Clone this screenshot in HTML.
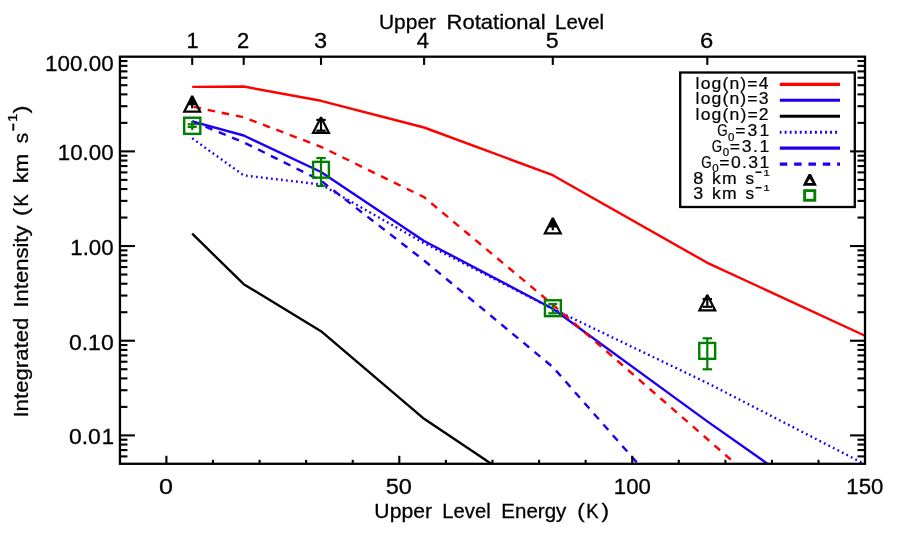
<!DOCTYPE html>
<html><head><meta charset="utf-8"><title>Integrated Intensity vs Upper Level Energy</title>
<style>html,body{margin:0;padding:0;background:#fff;}svg{display:block;}text{font-family:"Liberation Sans",sans-serif;font-kerning:none;}</style></head><body>
<svg width="900" height="540" viewBox="0 0 900 540">
<rect width="900" height="540" fill="#fff"/>
<defs><clipPath id="c"><rect x="119.95" y="56.7" width="745.05" height="407.1"/></clipPath><filter id="g" filterUnits="userSpaceOnUse" x="0" y="0" width="900" height="540"><feOffset dx="0" dy="0"/></filter></defs>
<g clip-path="url(#c)" fill="none" stroke-linejoin="round">
<polyline points="192.2,233.7 243.7,284.2 321.0,331.2 424.1,418.8 552.8,505.0" stroke="#000" stroke-width="2.4"/>
<polyline points="192.2,86.9 243.7,86.5 321.0,100.8 424.1,127.5 552.8,175.2 707.3,262.8 887.8,346.3" stroke="#ff0000" stroke-width="2.4"/>
<polyline points="192.2,121.3 243.7,142.3 321.0,180.7 424.1,260.5 552.8,367.0 707.3,542.5" stroke="#1c00f5" stroke-width="2.4" stroke-dasharray="7.5 6.83"/>
<polyline points="192.2,138.3 243.7,175.4 321.0,184.5 424.1,243.2 552.8,308.8 707.3,383.0 887.8,476.0" stroke="#1c00f5" stroke-width="2.4" stroke-dasharray="1.8 3.25"/>
<polyline points="192.2,121.3 243.7,135.5 321.0,172.0 424.1,241.0 552.8,308.7 707.3,421.4 887.8,548.5" stroke="#1c00f5" stroke-width="2.4"/>
<polyline points="192.2,106.6 243.7,117.3 321.0,146.8 424.1,197.2 552.8,304.6 707.3,439.0 887.8,597.7" stroke="#ff0000" stroke-width="2.4" stroke-dasharray="7.5 6.83" stroke-dashoffset="-1.5"/>
</g>
<g stroke="#000" stroke-width="2.2" fill="none">
<line x1="192.2" y1="100.0" x2="192.2" y2="108.3"/>
</g>
<path d="M192.2,97 L196.6,105.3 L187.8,105.3Z" fill="#000"/>
<path fill="#000" fill-rule="evenodd" d="M191.20,95.50L193.20,95.50L201.95,112.70L182.45,112.70ZM192.20,98.50L198.28,110.45L186.12,110.45Z"/>
<g stroke="#000" stroke-width="2.2" fill="none">
<line x1="321.0" y1="119.9" x2="321.0" y2="130.7"/>
<line x1="316.3" y1="119.9" x2="325.7" y2="119.9"/>
<line x1="316.3" y1="130.7" x2="325.7" y2="130.7"/>
</g>
<path fill="#000" fill-rule="evenodd" d="M320.00,116.70L322.00,116.70L330.75,133.90L311.25,133.90ZM321.00,119.70L327.08,131.65L314.92,131.65Z"/>
<g stroke="#000" stroke-width="2.2" fill="none">
<line x1="552.8" y1="222.0" x2="552.8" y2="230.3"/>
</g>
<path d="M552.8,219 L557.3,227.4 L548.3,227.4Z" fill="#000"/>
<path fill="#000" fill-rule="evenodd" d="M551.80,217.40L553.80,217.40L562.55,234.60L543.05,234.60ZM552.80,220.40L558.88,232.35L546.72,232.35Z"/>
<g stroke="#000" stroke-width="2.2" fill="none">
<line x1="707.3" y1="299.0" x2="707.3" y2="306.8"/>
<line x1="702.5999999999999" y1="299.0" x2="712.0" y2="299.0"/>
<line x1="702.5999999999999" y1="306.8" x2="712.0" y2="306.8"/>
</g>
<path fill="#000" fill-rule="evenodd" d="M706.30,294.40L708.30,294.40L717.05,311.60L697.55,311.60ZM707.30,297.40L713.38,309.35L701.22,309.35Z"/>
<g stroke="#008000" stroke-width="2.2" fill="none">
<line x1="192.2" y1="124.3" x2="192.2" y2="127.0"/>
<line x1="187.7" y1="124.3" x2="196.7" y2="124.3"/>
<line x1="187.7" y1="127.0" x2="196.7" y2="127.0"/>
</g>
<line x1="192.2" y1="121" x2="192.2" y2="130" stroke="#008000" stroke-width="2.2"/>
<rect x="184.20" y="117.75" width="16.10" height="16.10" fill="none" stroke="#008000" stroke-width="2.4"/>
<g stroke="#008000" stroke-width="2.2" fill="none">
<line x1="321.0" y1="158.0" x2="321.0" y2="186.0"/>
<line x1="316.3" y1="158.0" x2="325.7" y2="158.0"/>
<line x1="316.3" y1="186.0" x2="325.7" y2="186.0"/>
</g>
<rect x="313.10" y="161.85" width="15.80" height="15.80" fill="none" stroke="#008000" stroke-width="2.4"/>
<g stroke="#008000" stroke-width="2.2" fill="none">
<line x1="552.8" y1="304.0" x2="552.8" y2="313.3"/>
<line x1="548.3" y1="304.0" x2="557.3" y2="304.0"/>
<line x1="548.3" y1="313.3" x2="557.3" y2="313.3"/>
</g>
<rect x="544.95" y="300.25" width="15.90" height="15.90" fill="none" stroke="#008000" stroke-width="2.4"/>
<g stroke="#008000" stroke-width="2.2" fill="none">
<line x1="707.3" y1="338.3" x2="707.3" y2="369.3"/>
<line x1="702.5999999999999" y1="338.3" x2="712.0" y2="338.3"/>
<line x1="702.5999999999999" y1="369.3" x2="712.0" y2="369.3"/>
</g>
<rect x="699.25" y="342.95" width="15.90" height="15.90" fill="none" stroke="#008000" stroke-width="2.4"/>
<rect x="680.2" y="72.5" width="174.6" height="134.5" fill="none" stroke="#000" stroke-width="2.3"/>
<g fill="none" stroke-width="3.1">
<line x1="779.8" y1="84.4" x2="840.0" y2="84.4" stroke="#ff0000"/>
<line x1="779.8" y1="100.3" x2="840.0" y2="100.3" stroke="#1c00f5"/>
<line x1="779.8" y1="116.3" x2="840.0" y2="116.3" stroke="#000"/>
<line x1="779.8" y1="132.2" x2="840.0" y2="132.2" stroke="#1c00f5" stroke-dasharray="1.9 3.15" stroke-dashoffset="0.2"/>
<line x1="779.8" y1="148.1" x2="840.0" y2="148.1" stroke="#1c00f5"/>
<line x1="779.8" y1="164.1" x2="840.0" y2="164.1" stroke="#1c00f5" stroke-dasharray="7.5 6.83"/>
</g>
<path fill="#000" fill-rule="evenodd" d="M808.5999999999999,174.0L811.0,174.0L816.9,185.8L802.6999999999999,185.8ZM809.8,178.75L812.5,182.9L807.0999999999999,182.9Z"/>
<rect x="804.6" y="190.65" width="10.2" height="9.6" fill="none" stroke="#008000" stroke-width="2.9"/>
<line x1="755.5" y1="172.2" x2="761.5" y2="172.2" stroke="#000" stroke-width="1.5"/>
<line x1="755.5" y1="187.7" x2="761.5" y2="187.7" stroke="#000" stroke-width="1.5"/>
<g stroke="#000" stroke-width="2.3" fill="none" stroke-linecap="butt">
<rect x="119.95" y="56.7" width="745.05" height="407.10"/>
</g>
<g stroke="#000" stroke-width="2.1" fill="none" stroke-linecap="butt">
<line x1="166.40" y1="463.8" x2="166.40" y2="455.8"/>
<line x1="212.98" y1="463.8" x2="212.98" y2="459.8"/>
<line x1="259.56" y1="463.8" x2="259.56" y2="459.8"/>
<line x1="306.14" y1="463.8" x2="306.14" y2="459.8"/>
<line x1="352.72" y1="463.8" x2="352.72" y2="459.8"/>
<line x1="399.30" y1="463.8" x2="399.30" y2="455.8"/>
<line x1="445.88" y1="463.8" x2="445.88" y2="459.8"/>
<line x1="492.46" y1="463.8" x2="492.46" y2="459.8"/>
<line x1="539.04" y1="463.8" x2="539.04" y2="459.8"/>
<line x1="585.62" y1="463.8" x2="585.62" y2="459.8"/>
<line x1="632.20" y1="463.8" x2="632.20" y2="455.8"/>
<line x1="678.78" y1="463.8" x2="678.78" y2="459.8"/>
<line x1="725.36" y1="463.8" x2="725.36" y2="459.8"/>
<line x1="771.94" y1="463.8" x2="771.94" y2="459.8"/>
<line x1="818.52" y1="463.8" x2="818.52" y2="459.8"/>
<line x1="192.20" y1="56.7" x2="192.20" y2="64.9"/>
<line x1="243.70" y1="56.7" x2="243.70" y2="64.9"/>
<line x1="321.00" y1="56.7" x2="321.00" y2="64.9"/>
<line x1="424.10" y1="56.7" x2="424.10" y2="64.9"/>
<line x1="552.80" y1="56.7" x2="552.80" y2="64.9"/>
<line x1="707.30" y1="56.7" x2="707.30" y2="64.9"/>
<line x1="119.95" y1="456.40" x2="127.45" y2="456.40"/>
<line x1="865.0" y1="456.40" x2="857.5" y2="456.40"/>
<line x1="119.95" y1="450.07" x2="127.45" y2="450.07"/>
<line x1="865.0" y1="450.07" x2="857.5" y2="450.07"/>
<line x1="119.95" y1="444.57" x2="127.45" y2="444.57"/>
<line x1="865.0" y1="444.57" x2="857.5" y2="444.57"/>
<line x1="119.95" y1="439.73" x2="127.45" y2="439.73"/>
<line x1="865.0" y1="439.73" x2="857.5" y2="439.73"/>
<line x1="119.95" y1="435.40" x2="134.95" y2="435.40"/>
<line x1="865.0" y1="435.40" x2="850.0" y2="435.40"/>
<line x1="119.95" y1="406.90" x2="127.45" y2="406.90"/>
<line x1="865.0" y1="406.90" x2="857.5" y2="406.90"/>
<line x1="119.95" y1="390.23" x2="127.45" y2="390.23"/>
<line x1="865.0" y1="390.23" x2="857.5" y2="390.23"/>
<line x1="119.95" y1="378.40" x2="127.45" y2="378.40"/>
<line x1="865.0" y1="378.40" x2="857.5" y2="378.40"/>
<line x1="119.95" y1="369.23" x2="127.45" y2="369.23"/>
<line x1="865.0" y1="369.23" x2="857.5" y2="369.23"/>
<line x1="119.95" y1="361.73" x2="127.45" y2="361.73"/>
<line x1="865.0" y1="361.73" x2="857.5" y2="361.73"/>
<line x1="119.95" y1="355.39" x2="127.45" y2="355.39"/>
<line x1="865.0" y1="355.39" x2="857.5" y2="355.39"/>
<line x1="119.95" y1="349.90" x2="127.45" y2="349.90"/>
<line x1="865.0" y1="349.90" x2="857.5" y2="349.90"/>
<line x1="119.95" y1="345.06" x2="127.45" y2="345.06"/>
<line x1="865.0" y1="345.06" x2="857.5" y2="345.06"/>
<line x1="119.95" y1="340.73" x2="134.95" y2="340.73"/>
<line x1="865.0" y1="340.73" x2="850.0" y2="340.73"/>
<line x1="119.95" y1="312.22" x2="127.45" y2="312.22"/>
<line x1="865.0" y1="312.22" x2="857.5" y2="312.22"/>
<line x1="119.95" y1="295.55" x2="127.45" y2="295.55"/>
<line x1="865.0" y1="295.55" x2="857.5" y2="295.55"/>
<line x1="119.95" y1="283.72" x2="127.45" y2="283.72"/>
<line x1="865.0" y1="283.72" x2="857.5" y2="283.72"/>
<line x1="119.95" y1="274.55" x2="127.45" y2="274.55"/>
<line x1="865.0" y1="274.55" x2="857.5" y2="274.55"/>
<line x1="119.95" y1="267.05" x2="127.45" y2="267.05"/>
<line x1="865.0" y1="267.05" x2="857.5" y2="267.05"/>
<line x1="119.95" y1="260.72" x2="127.45" y2="260.72"/>
<line x1="865.0" y1="260.72" x2="857.5" y2="260.72"/>
<line x1="119.95" y1="255.22" x2="127.45" y2="255.22"/>
<line x1="865.0" y1="255.22" x2="857.5" y2="255.22"/>
<line x1="119.95" y1="250.38" x2="127.45" y2="250.38"/>
<line x1="865.0" y1="250.38" x2="857.5" y2="250.38"/>
<line x1="119.95" y1="246.05" x2="134.95" y2="246.05"/>
<line x1="865.0" y1="246.05" x2="850.0" y2="246.05"/>
<line x1="119.95" y1="217.55" x2="127.45" y2="217.55"/>
<line x1="865.0" y1="217.55" x2="857.5" y2="217.55"/>
<line x1="119.95" y1="200.88" x2="127.45" y2="200.88"/>
<line x1="865.0" y1="200.88" x2="857.5" y2="200.88"/>
<line x1="119.95" y1="189.05" x2="127.45" y2="189.05"/>
<line x1="865.0" y1="189.05" x2="857.5" y2="189.05"/>
<line x1="119.95" y1="179.88" x2="127.45" y2="179.88"/>
<line x1="865.0" y1="179.88" x2="857.5" y2="179.88"/>
<line x1="119.95" y1="172.38" x2="127.45" y2="172.38"/>
<line x1="865.0" y1="172.38" x2="857.5" y2="172.38"/>
<line x1="119.95" y1="166.04" x2="127.45" y2="166.04"/>
<line x1="865.0" y1="166.04" x2="857.5" y2="166.04"/>
<line x1="119.95" y1="160.55" x2="127.45" y2="160.55"/>
<line x1="865.0" y1="160.55" x2="857.5" y2="160.55"/>
<line x1="119.95" y1="155.71" x2="127.45" y2="155.71"/>
<line x1="865.0" y1="155.71" x2="857.5" y2="155.71"/>
<line x1="119.95" y1="151.38" x2="134.95" y2="151.38"/>
<line x1="865.0" y1="151.38" x2="850.0" y2="151.38"/>
<line x1="119.95" y1="122.87" x2="127.45" y2="122.87"/>
<line x1="865.0" y1="122.87" x2="857.5" y2="122.87"/>
<line x1="119.95" y1="106.20" x2="127.45" y2="106.20"/>
<line x1="865.0" y1="106.20" x2="857.5" y2="106.20"/>
<line x1="119.95" y1="94.37" x2="127.45" y2="94.37"/>
<line x1="865.0" y1="94.37" x2="857.5" y2="94.37"/>
<line x1="119.95" y1="85.20" x2="127.45" y2="85.20"/>
<line x1="865.0" y1="85.20" x2="857.5" y2="85.20"/>
<line x1="119.95" y1="77.70" x2="127.45" y2="77.70"/>
<line x1="865.0" y1="77.70" x2="857.5" y2="77.70"/>
<line x1="119.95" y1="71.37" x2="127.45" y2="71.37"/>
<line x1="865.0" y1="71.37" x2="857.5" y2="71.37"/>
<line x1="119.95" y1="65.87" x2="127.45" y2="65.87"/>
<line x1="865.0" y1="65.87" x2="857.5" y2="65.87"/>
<line x1="119.95" y1="61.03" x2="127.45" y2="61.03"/>
<line x1="865.0" y1="61.03" x2="857.5" y2="61.03"/>
</g>
<line x1="13.3" y1="130.7" x2="13.3" y2="123.6" stroke="#000" stroke-width="1.9"/>
<g filter="url(#g)">
<text transform="translate(695.61,88.50) scale(0.01759,0.01599)" font-size="1000" fill="#000" stroke="#000" stroke-width="0.2" vector-effect="non-scaling-stroke" letter-spacing="64.03">log(n)=4</text>
<text transform="translate(695.61,104.45) scale(0.01759,0.01599)" font-size="1000" fill="#000" stroke="#000" stroke-width="0.2" vector-effect="non-scaling-stroke" letter-spacing="64.50">log(n)=3</text>
<text transform="translate(695.61,120.30) scale(0.01759,0.01599)" font-size="1000" fill="#000" stroke="#000" stroke-width="0.2" vector-effect="non-scaling-stroke" letter-spacing="65.41">log(n)=2</text>
<text transform="translate(717.13,136.00) scale(0.01333,0.01599)" font-size="1000" fill="#000" stroke="#000" stroke-width="0.2" vector-effect="non-scaling-stroke">G</text>
<text transform="translate(728.05,140.60) scale(0.01151,0.01060)" font-size="1000" fill="#000" stroke="#000" stroke-width="0.2" vector-effect="non-scaling-stroke">0</text>
<text transform="translate(735.14,136.00) scale(0.01759,0.01599)" font-size="1000" fill="#000" stroke="#000" stroke-width="0.2" vector-effect="non-scaling-stroke" letter-spacing="123.09">=31</text>
<text transform="translate(711.83,151.80) scale(0.01333,0.01599)" font-size="1000" fill="#000" stroke="#000" stroke-width="0.2" vector-effect="non-scaling-stroke">G</text>
<text transform="translate(722.75,156.40) scale(0.01151,0.01060)" font-size="1000" fill="#000" stroke="#000" stroke-width="0.2" vector-effect="non-scaling-stroke">0</text>
<text transform="translate(729.84,151.80) scale(0.01759,0.01599)" font-size="1000" fill="#000" stroke="#000" stroke-width="0.2" vector-effect="non-scaling-stroke" letter-spacing="89.90">=3.1</text>
<text transform="translate(701.33,167.50) scale(0.01333,0.01599)" font-size="1000" fill="#000" stroke="#000" stroke-width="0.2" vector-effect="non-scaling-stroke">G</text>
<text transform="translate(712.25,172.10) scale(0.01151,0.01060)" font-size="1000" fill="#000" stroke="#000" stroke-width="0.2" vector-effect="non-scaling-stroke">0</text>
<text transform="translate(719.34,167.50) scale(0.01759,0.01599)" font-size="1000" fill="#000" stroke="#000" stroke-width="0.2" vector-effect="non-scaling-stroke" letter-spacing="77.64">=0.31</text>
<text transform="translate(693.21,183.80) scale(0.01811,0.01599)" font-size="1000" fill="#000" stroke="#000" stroke-width="0.2" vector-effect="non-scaling-stroke">8</text>
<text transform="translate(712.01,183.80) scale(0.01759,0.01599)" font-size="1000" fill="#000" stroke="#000" stroke-width="0.2" vector-effect="non-scaling-stroke" letter-spacing="68.24">km</text>
<text transform="translate(745.52,183.80) scale(0.01720,0.01599)" font-size="1000" fill="#000" stroke="#000" stroke-width="0.2" vector-effect="non-scaling-stroke">s</text>
<text transform="translate(763.16,175.50) scale(0.01190,0.00974)" font-size="1000" fill="#000" stroke="#000" stroke-width="0.2" vector-effect="non-scaling-stroke">1</text>
<text transform="translate(693.32,199.30) scale(0.01793,0.01599)" font-size="1000" fill="#000" stroke="#000" stroke-width="0.2" vector-effect="non-scaling-stroke">3</text>
<text transform="translate(712.01,199.30) scale(0.01759,0.01599)" font-size="1000" fill="#000" stroke="#000" stroke-width="0.2" vector-effect="non-scaling-stroke" letter-spacing="68.24">km</text>
<text transform="translate(745.52,199.30) scale(0.01720,0.01599)" font-size="1000" fill="#000" stroke="#000" stroke-width="0.2" vector-effect="non-scaling-stroke">s</text>
<text transform="translate(763.16,191.00) scale(0.01190,0.00974)" font-size="1000" fill="#000" stroke="#000" stroke-width="0.2" vector-effect="non-scaling-stroke">1</text>
<text transform="translate(45.09,70.79) scale(0.02242,0.02147)" font-size="1000" fill="#000" stroke="#000" stroke-width="0.3" vector-effect="non-scaling-stroke">100.00</text>
<text transform="translate(57.80,159.79) scale(0.02233,0.02147)" font-size="1000" fill="#000" stroke="#000" stroke-width="0.3" vector-effect="non-scaling-stroke">10.00</text>
<text transform="translate(70.30,254.59) scale(0.02228,0.02161)" font-size="1000" fill="#000" stroke="#000" stroke-width="0.3" vector-effect="non-scaling-stroke">1.00</text>
<text transform="translate(68.90,349.58) scale(0.02302,0.02203)" font-size="1000" fill="#000" stroke="#000" stroke-width="0.3" vector-effect="non-scaling-stroke">0.10</text>
<text transform="translate(69.00,443.79) scale(0.02294,0.02147)" font-size="1000" fill="#000" stroke="#000" stroke-width="0.3" vector-effect="non-scaling-stroke">0.0</text>
<text transform="translate(101.87,443.80) scale(0.02216,0.02151)" font-size="1000" fill="#000" stroke="#000" stroke-width="0.3" vector-effect="non-scaling-stroke">1</text>
<text transform="translate(159.02,493.58) scale(0.02510,0.02203)" font-size="1000" fill="#000" stroke="#000" stroke-width="0.3" vector-effect="non-scaling-stroke">0</text>
<text transform="translate(385.66,493.58) scale(0.02352,0.02203)" font-size="1000" fill="#000" stroke="#000" stroke-width="0.3" vector-effect="non-scaling-stroke">50</text>
<text transform="translate(613.81,493.58) scale(0.02221,0.02203)" font-size="1000" fill="#000" stroke="#000" stroke-width="0.3" vector-effect="non-scaling-stroke">100</text>
<text transform="translate(846.31,493.58) scale(0.02221,0.02203)" font-size="1000" fill="#000" stroke="#000" stroke-width="0.3" vector-effect="non-scaling-stroke">150</text>
<text transform="translate(186.41,47.70) scale(0.02175,0.02137)" font-size="1000" fill="#000" stroke="#000" stroke-width="0.3" vector-effect="non-scaling-stroke">1</text>
<text transform="translate(236.90,48.00) scale(0.02195,0.02148)" font-size="1000" fill="#000" stroke="#000" stroke-width="0.3" vector-effect="non-scaling-stroke">2</text>
<text transform="translate(314.10,48.29) scale(0.02362,0.02189)" font-size="1000" fill="#000" stroke="#000" stroke-width="0.3" vector-effect="non-scaling-stroke">3</text>
<text transform="translate(416.80,47.80) scale(0.02183,0.02122)" font-size="1000" fill="#000" stroke="#000" stroke-width="0.3" vector-effect="non-scaling-stroke">4</text>
<text transform="translate(545.87,48.29) scale(0.02320,0.02178)" font-size="1000" fill="#000" stroke="#000" stroke-width="0.3" vector-effect="non-scaling-stroke">5</text>
<text transform="translate(699.99,48.29) scale(0.02384,0.02189)" font-size="1000" fill="#000" stroke="#000" stroke-width="0.3" vector-effect="non-scaling-stroke">6</text>
<text transform="translate(378.98,28.70) scale(0.02095,0.02006)" font-size="1000" fill="#000" stroke="#000" stroke-width="0.3" vector-effect="non-scaling-stroke">Upper</text>
<text transform="translate(446.49,28.70) scale(0.02205,0.02006)" font-size="1000" fill="#000" stroke="#000" stroke-width="0.3" vector-effect="non-scaling-stroke">Rotational</text>
<text transform="translate(555.02,28.70) scale(0.02052,0.02006)" font-size="1000" fill="#000" stroke="#000" stroke-width="0.3" vector-effect="non-scaling-stroke">Level</text>
<text transform="translate(374.37,517.70) scale(0.02114,0.02006)" font-size="1000" fill="#000" stroke="#000" stroke-width="0.3" vector-effect="non-scaling-stroke">Upper</text>
<text transform="translate(442.34,517.70) scale(0.02021,0.02006)" font-size="1000" fill="#000" stroke="#000" stroke-width="0.3" vector-effect="non-scaling-stroke">Level</text>
<text transform="translate(501.32,517.70) scale(0.02052,0.02006)" font-size="1000" fill="#000" stroke="#000" stroke-width="0.3" vector-effect="non-scaling-stroke">Energy</text>
<text transform="translate(577.32,517.70) scale(0.02225,0.02006)" font-size="1000" fill="#000" stroke="#000" stroke-width="0.3" vector-effect="non-scaling-stroke">(</text>
<text transform="translate(586.18,517.70) scale(0.01848,0.02006)" font-size="1000" fill="#000" stroke="#000" stroke-width="0.3" vector-effect="non-scaling-stroke">K</text>
<text transform="translate(601.57,517.70) scale(0.02263,0.02006)" font-size="1000" fill="#000" stroke="#000" stroke-width="0.3" vector-effect="non-scaling-stroke">)</text>
<text transform="translate(27.80,417.55) rotate(-90) scale(0.02222,0.02006)" font-size="1000" fill="#000" stroke="#000" stroke-width="0.3" vector-effect="non-scaling-stroke">Integrated</text>
<text transform="translate(27.80,307.53) rotate(-90) scale(0.02201,0.02006)" font-size="1000" fill="#000" stroke="#000" stroke-width="0.3" vector-effect="non-scaling-stroke">Intensity</text>
<text transform="translate(27.80,216.14) rotate(-90) scale(0.02489,0.02006)" font-size="1000" fill="#000" stroke="#000" stroke-width="0.3" vector-effect="non-scaling-stroke">(</text>
<text transform="translate(27.80,206.49) rotate(-90) scale(0.01813,0.02006)" font-size="1000" fill="#000" stroke="#000" stroke-width="0.3" vector-effect="non-scaling-stroke">K</text>
<text transform="translate(27.80,183.29) rotate(-90) scale(0.02217,0.02006)" font-size="1000" fill="#000" stroke="#000" stroke-width="0.3" vector-effect="non-scaling-stroke">km</text>
<text transform="translate(27.80,143.28) rotate(-90) scale(0.02087,0.02006)" font-size="1000" fill="#000" stroke="#000" stroke-width="0.3" vector-effect="non-scaling-stroke">s</text>
<text transform="translate(16.70,122.06) rotate(-90) scale(0.01519,0.01265)" font-size="1000" fill="#000" stroke="#000" stroke-width="0.3" vector-effect="non-scaling-stroke">1</text>
<text transform="translate(27.80,113.44) rotate(-90) scale(0.02414,0.02006)" font-size="1000" fill="#000" stroke="#000" stroke-width="0.3" vector-effect="non-scaling-stroke">)</text>
</g>
</svg></body></html>
